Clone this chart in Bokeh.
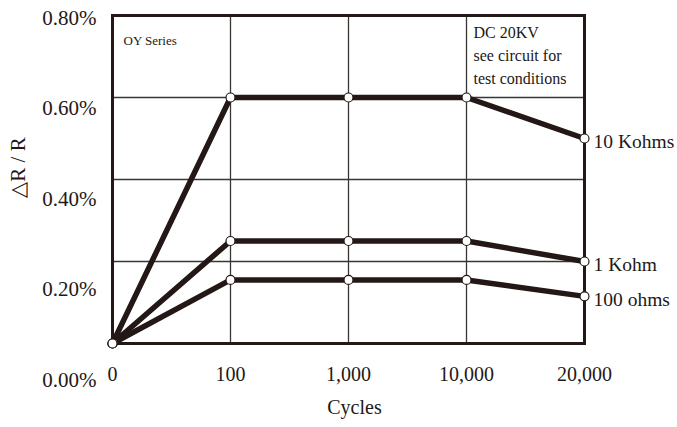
import math
from bokeh.plotting import figure
from bokeh.models import Range1d
from bokeh.embed import file_html
from bokeh.resources import INLINE
from bokeh.core.properties import value

# ---- data ----
cycles = ["0", "100", "1,000", "10,000", "20,000"]
r10k = [0.0, 0.60, 0.60, 0.60, 0.50]
r1k = [0.0, 0.25, 0.25, 0.25, 0.20]
r100 = [0.0, 0.155, 0.155, 0.155, 0.115]
series_names = ["10 Kohms", "1 Kohm", "100 ohms"]
y_tick_values = [0.0, 0.2, 0.4, 0.6, 0.8]
y_tick_labels = ["0.00%", "0.20%", "0.40%", "0.60%", "0.80%"]
grid_values = [0.2, 0.4, 0.6]
x_title = "Cycles"
y_title = "△R / R"
note_series = "OY Series"
note_lines = ["DC 20KV", "see circuit for", "test conditions"]

INK = "#231815"
GRID = "#3a3634"
FONT = value("Liberation Serif")

xs = list(range(len(cycles)))
x0, x1 = xs[0], xs[-1]
y0, y1 = y_tick_values[0], y_tick_values[-1]

# the plotting frame covers the whole canvas; the box spans 112..584 x 15..343 px
p = figure(width=677, height=427, output_backend="svg", toolbar_location=None,
           x_range=Range1d(-112 / 118, 4 + 93 / 118),
           y_range=Range1d(-84 / 410, 0.8 + 15 / 410),
           x_axis_location=None, y_axis_location=None,
           min_border_left=0, min_border_right=0, min_border_top=0,
           min_border_bottom=0)
p.background_fill_color = "white"
p.border_fill_color = "white"
p.outline_line_color = None
p.xgrid.visible = False
p.ygrid.visible = False
# the printed y tick labels sit on their own (slightly stretched) scale
p.extra_y_ranges = {"lab": Range1d(-48 / 452.5, 0.8 + 17 / 452.5)}

# grid lines inside the box
p.segment(x0=xs[1:-1], y0=[y0] * 3, x1=xs[1:-1], y1=[y1] * 3,
          line_color=GRID, line_width=1.3)
p.segment(x0=[x0] * 3, y0=grid_values, x1=[x1] * 3, y1=grid_values,
          line_color=GRID, line_width=1.3)
# box
p.quad(left=[x0], right=[x1], bottom=[y0], top=[y1], fill_color=None,
       line_color=INK, line_width=3, line_join="miter")

# y tick labels and y title
p.text(x=[x0] * len(y_tick_values), y=y_tick_values, y_range_name="lab",
       text=y_tick_labels, x_offset=-16, text_align="right", text_baseline="middle",
       text_font=FONT, text_font_size="21px", text_color=INK)
p.text(x=[x0], y=[y1], text=[y_title], angle=math.pi / 2, x_offset=-95, y_offset=152,
       text_align="center", text_baseline="middle", text_font=FONT,
       text_font_size="21px", text_color=INK)

# x tick labels and x title
p.text(x=xs, y=[y0] * len(xs), text=cycles, y_offset=30, text_align="center",
       text_baseline="middle", text_font=FONT, text_font_size="20px", text_color=INK)
p.text(x=[xs[len(xs) // 2]], y=[y0], text=[x_title], x_offset=6, y_offset=63,
       text_align="center", text_baseline="middle", text_font=FONT,
       text_font_size="20px", text_color=INK)

# series
all_series = [r10k, r1k, r100]
for ys in all_series:
    p.line(xs, ys, line_color=INK, line_width=5.5)
for ys in all_series:
    p.scatter(xs, ys, size=9, fill_color="white", line_color=INK, line_width=1.2)

# end labels
p.text(x=[x1] * len(all_series), y=[s[-1] for s in all_series], text=series_names,
       x_offset=9, y_offset=3, text_baseline="middle", text_font=FONT,
       text_font_size="19.5px", text_color=INK)

# notes inside the box
p.text(x=[x0], y=[y1], text=[note_series], x_offset=11, y_offset=25,
       text_baseline="middle", text_font=FONT, text_font_size="13px", text_color=INK)
p.text(x=[xs[3]] * len(note_lines), y=[y1] * len(note_lines), text=note_lines,
       x_offset=7, y_offset=[17, 40, 63], text_baseline="middle", text_font=FONT,
       text_font_size="16px", text_color=INK)

open("out.html", "w").write(file_html(p, INLINE))
